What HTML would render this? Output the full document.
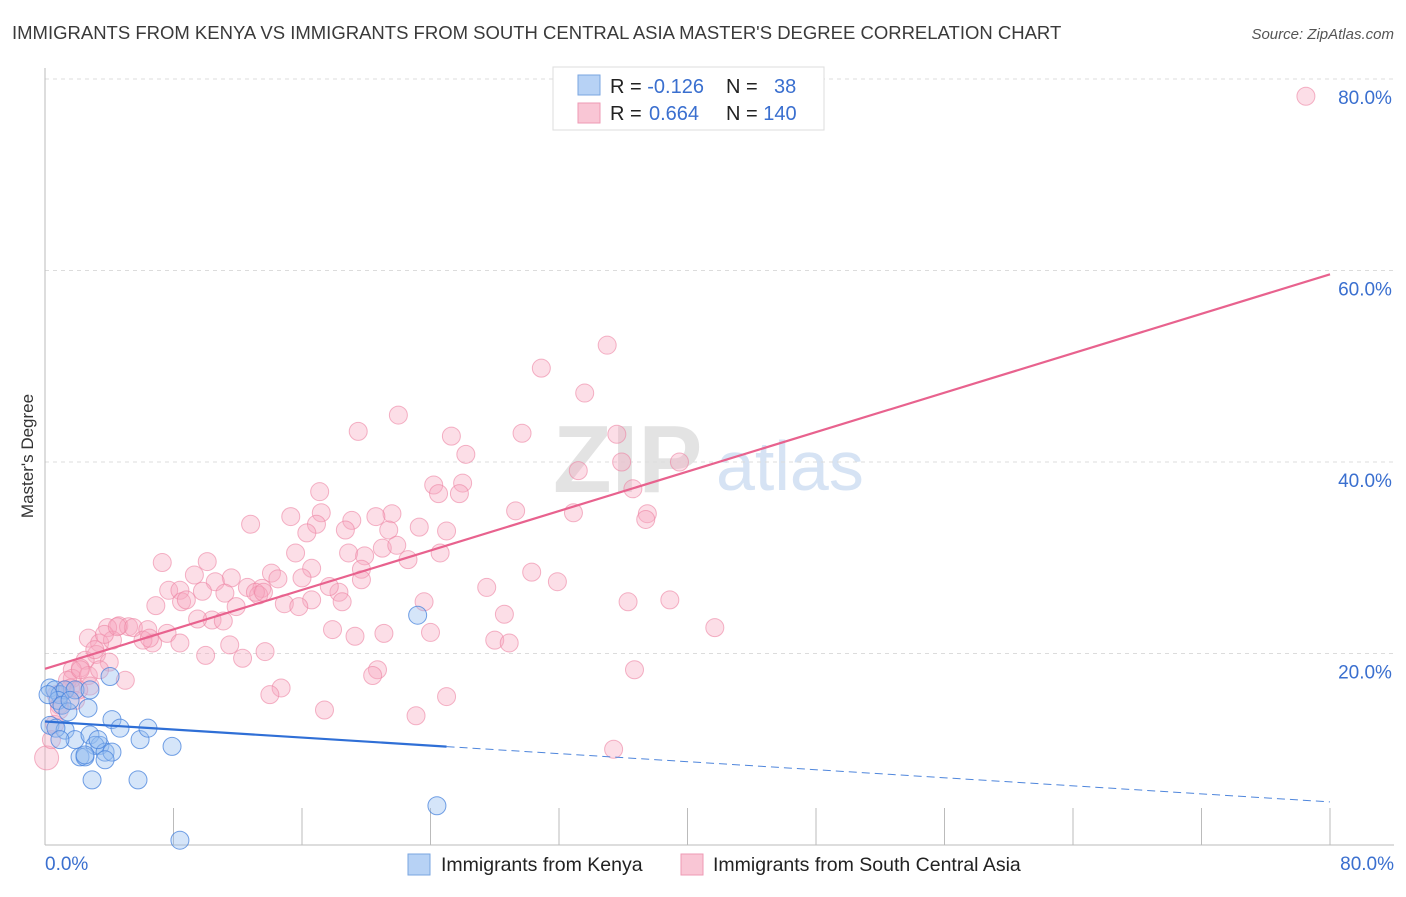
<!DOCTYPE html>
<html><head><meta charset="utf-8"><style>
body{margin:0;background:#fff;font-family:"Liberation Sans",sans-serif}
svg text{font-family:"Liberation Sans",sans-serif}
</style></head><body>
<svg id="chart" width="1406" height="892" viewBox="0 0 1406 892" xmlns="http://www.w3.org/2000/svg">
<text x="12" y="39" font-size="18.5" fill="#3a3a3a">IMMIGRANTS FROM KENYA VS IMMIGRANTS FROM SOUTH CENTRAL ASIA MASTER'S DEGREE CORRELATION CHART</text>
<text x="1394" y="39" font-size="15" fill="#555" font-style="italic" text-anchor="end">Source: ZipAtlas.com</text>
<text transform="translate(33,456) rotate(-90)" font-size="17" fill="#333" text-anchor="middle">Master's Degree</text>
<g id="watermark">
<text x="553" y="492" font-size="96" fill="#e3e3e3" font-family="Liberation Serif" font-weight="bold">ZIP</text>
<text x="716" y="490" font-size="70" fill="#d6e3f4">atlas</text>
</g>
<g id="grid"></g><g id="axes"></g><g id="pts"></g><g id="lines"></g>
<g>
<rect x="553" y="67" width="271" height="63" fill="#fff" stroke="#ddd"/>
<rect x="578" y="75" width="22" height="20" fill="#b7d2f5" stroke="#7aa6e0"/>
<rect x="578" y="103" width="22" height="20" fill="#f9c6d5" stroke="#ee9ab4"/>
<text x="610" y="93" font-size="20" fill="#222">R = <tspan fill="#3a6fcf">-0.126</tspan></text>
<text x="726" y="93" font-size="20" fill="#222">N = <tspan fill="#3a6fcf" x="774">38</tspan></text>
<text x="610" y="120" font-size="20" fill="#222">R = <tspan fill="#3a6fcf" x="649">0.664</tspan></text>
<text x="726" y="120" font-size="20" fill="#222">N = <tspan fill="#3a6fcf">140</tspan></text>
</g>
<g>
<rect x="408" y="854" width="22" height="21" fill="#b7d2f5" stroke="#7aa6e0"/>
<text x="441" y="871" font-size="19.5" fill="#222">Immigrants from Kenya</text>
<rect x="681" y="854" width="22" height="21" fill="#f9c6d5" stroke="#ee9ab4"/>
<text x="713" y="871" font-size="19.5" fill="#222">Immigrants from South Central Asia</text>
</g>
</svg>
<script>
const yTicks=[20,40,60,80];
const yTickLabels=["20.0%","40.0%","60.0%","80.0%"];
const xTickLabels=["0.0%","80.0%"];
const kenyaX=[0.31,0.62,0.93,1.25,0.81,1.06,1.43,1.87,2.8,2.68,4.17,0.31,1.25,1.87,2.8,3.42,3.11,3.74,4.17,4.67,5.92,6.41,7.91,2.18,2.49,3.74,2.93,5.79,4.05,23.2,24.4,8.4,1.56,0.68,0.93,3.3,2.49,0.19];
const kenyaY=[16.4,16.2,15.7,16.2,15.1,14.6,13.9,16.2,16.2,14.3,13.1,12.5,12.0,11.0,11.5,10.4,10.4,9.7,9.7,12.2,11.0,12.2,10.3,9.2,9.2,8.9,6.8,6.8,17.6,24.0,4.1,0.5,15.1,12.2,11.0,11.0,9.4,15.7];
const scaX=[78.5,35.0,30.9,33.6,22.0,19.5,25.3,29.7,35.6,26.2,33.2,35.9,39.5,24.2,26.0,24.5,25.8,36.6,17.1,21.6,12.8,15.3,17.2,16.9,19.1,20.6,23.3,25.0,21.4,18.7,29.3,32.9,37.5,37.4,16.3,21.0,21.9,18.9,15.6,19.9,24.6,22.6,7.3,10.1,16.6,19.7,30.3,31.9,27.5,14.1,14.5,16.0,11.6,10.6,9.3,7.7,8.4,9.8,12.6,13.5,11.2,13.3,13.1,18.3,19.7,17.7,6.9,8.5,8.8,16.6,14.9,15.8,18.5,23.6,28.6,36.3,38.9,11.9,10.4,11.1,9.5,4.6,5.2,3.9,5.5,6.4,6.7,7.6,8.4,6.1,2.7,3.4,4.2,6.5,17.9,19.3,21.1,24.0,28.0,28.9,41.7,13.7,11.5,10.0,12.3,3.2,2.5,4.0,2.2,1.7,1.7,2.7,5.0,1.4,2.8,0.7,1.6,0.9,20.7,20.4,36.7,14.7,14.0,25.0,17.4,23.1,0.6,0.1,35.4,0.9,2.2,1.2,3.4,1.9,0.4,2.1,3.1,3.7,4.5,13.6];
const scaY=[78.2,52.2,49.8,47.2,44.9,43.2,42.7,43.0,42.9,40.8,39.1,40.0,40.0,37.6,37.8,36.7,36.7,37.2,36.9,34.6,33.5,34.3,34.7,33.5,33.9,34.3,33.2,32.8,32.9,32.9,34.9,34.7,34.6,34.0,32.6,31.0,31.3,30.5,30.5,30.2,30.5,29.8,29.5,29.6,28.9,28.8,28.5,27.5,26.9,28.4,27.8,27.9,27.9,27.5,28.2,26.6,26.6,26.5,26.9,26.8,26.3,26.1,26.4,26.4,27.7,27.0,25.0,25.4,25.6,25.6,25.2,24.9,25.4,25.4,24.1,25.4,25.6,24.9,23.5,23.4,23.6,22.9,22.8,22.7,22.7,22.5,21.1,22.1,21.1,21.4,21.6,21.1,21.4,21.6,22.5,21.8,22.1,22.2,21.4,21.1,22.7,20.2,20.9,19.8,19.5,19.9,19.3,19.1,18.5,18.3,17.4,17.7,17.2,17.2,16.6,15.7,16.4,14.6,18.3,17.7,18.3,16.4,15.7,15.5,14.1,13.5,12.6,9.1,10.0,14.1,18.3,16.2,18.3,15.1,11.0,16.2,20.4,22.0,22.8,26.4];
const scaTrend=[18.4,59.6];
const kenyaTrend=[12.9,4.5];
const kenyaSolidEnd=25.0;

const X0=45,X1=1330,Y0=845,Y80=79;
const sx=v=>X0+(X1-X0)*v/80;
const sy=v=>Y0-(Y0-Y80)*v/80;
const NS="http://www.w3.org/2000/svg";
function mk(tag,attrs,parent){const e=document.createElementNS(NS,tag);for(const k in attrs)e.setAttribute(k,attrs[k]);parent.appendChild(e);return e;}
const grid=document.getElementById('grid'),axes=document.getElementById('axes'),pts=document.getElementById('pts'),lines=document.getElementById('lines');
yTicks.forEach((t,i)=>{
  const l=mk('line',{x1:X0,x2:1394,y1:sy(t),y2:sy(t),stroke:'#dcdcdc','stroke-dasharray':'4,4'},grid);
  
  
  const tx=mk('text',{x:1365,y:sy(t)+25,'font-size':19,fill:'#3a6fcf','text-anchor':'middle'},grid);
  tx.textContent=yTickLabels[i];
  
  
});
let a=mk('line',{x1:X0,x2:X0,y1:68,y2:Y0,stroke:'#bbb'},axes);


a=mk('line',{x1:X0,x2:1394,y1:Y0,y2:Y0,stroke:'#bbb'},axes);


for(let i=1;i<=10;i++){
  const t=mk('line',{x1:sx(i*8),x2:sx(i*8),y1:808,y2:Y0,stroke:'#bbb'},axes);
  
  
}
[[0,'start',45],[80,'end',1394]].forEach((d,i)=>{
  const t=mk('text',{x:d[2],y:870,'font-size':19,fill:'#3a6fcf','text-anchor':d[1]},axes);
  t.textContent=xTickLabels[i];
  
  
});
scaX.forEach((x,i)=>{
  const r=(i===127)?12:9;
  const c=mk('circle',{cx:sx(x),cy:sy(scaY[i]),r:r,fill:'rgba(246,168,192,0.38)',stroke:'rgba(236,130,162,0.6)','stroke-width':1},pts);
  
  
});
kenyaX.forEach((x,i)=>{
  const c=mk('circle',{cx:sx(x),cy:sy(kenyaY[i]),r:9,fill:'rgba(150,190,240,0.4)',stroke:'rgba(70,130,220,0.75)','stroke-width':1},pts);
  
  
});
let ln=mk('line',{x1:sx(0),y1:sy(scaTrend[0]),x2:sx(80),y2:sy(scaTrend[1]),stroke:'#e8628e','stroke-width':2.2},lines);


const kAt=v=>kenyaTrend[0]+(kenyaTrend[1]-kenyaTrend[0])*v/80;
ln=mk('line',{x1:sx(0),y1:sy(kenyaTrend[0]),x2:sx(kenyaSolidEnd),y2:sy(kAt(kenyaSolidEnd)),stroke:'#2f6fd6','stroke-width':2.2},lines);


ln=mk('line',{x1:sx(kenyaSolidEnd),y1:sy(kAt(kenyaSolidEnd)),x2:sx(80),y2:sy(kenyaTrend[1]),stroke:'#4f86dc','stroke-width':1,'stroke-dasharray':'8,5'},lines);


</script>
</body></html>
